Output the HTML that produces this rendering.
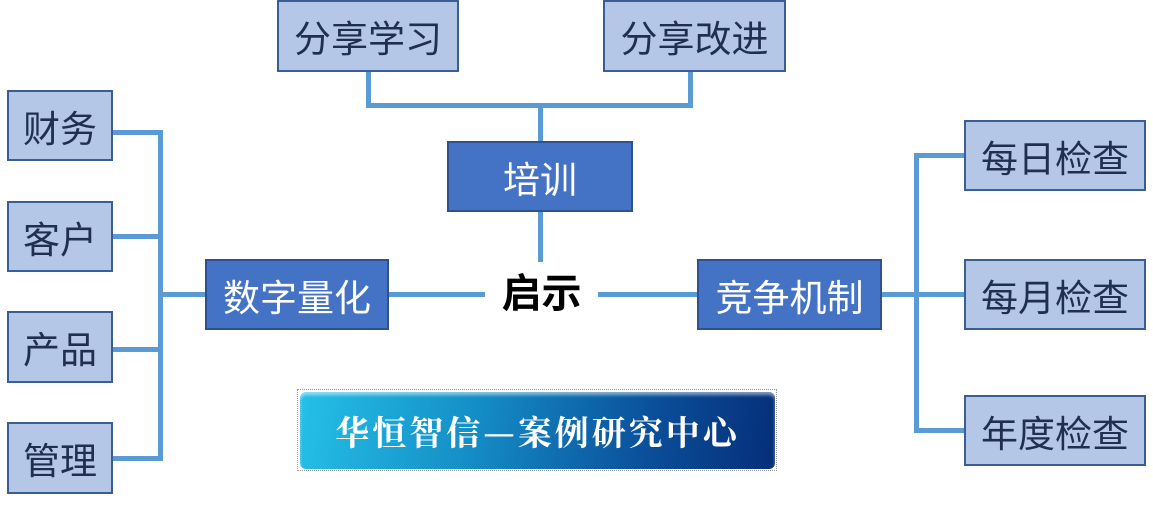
<!DOCTYPE html>
<html><head><meta charset="utf-8"><style>
body{margin:0;width:1153px;height:505px;background:#fff;position:relative;overflow:hidden;font-family:"Liberation Sans","Noto Sans CJK SC",sans-serif}
.b{position:absolute;box-sizing:border-box;border:2px solid #3A5D96;display:flex;align-items:center;justify-content:center;font-size:37px}
.l{background:#B4C7E7;color:#1F2F4F}
.d{background:#4472C4;color:#fff;border-color:#2F528F}
.ln{position:absolute;background:#5B9BD5}
</style></head><body>
<div class="ln" style="left:366px;top:70px;width:5px;height:38px"></div>
<div class="ln" style="left:688px;top:70px;width:5px;height:38px"></div>
<div class="ln" style="left:366px;top:103px;width:327px;height:5px"></div>
<div class="ln" style="left:538px;top:103px;width:5px;height:40px"></div>
<div class="ln" style="left:538px;top:210px;width:5px;height:52px"></div>
<div class="ln" style="left:387px;top:292px;width:98px;height:5px"></div>
<div class="ln" style="left:598px;top:292px;width:100px;height:5px"></div>
<div class="ln" style="left:111px;top:130px;width:52px;height:5px"></div>
<div class="ln" style="left:111px;top:234px;width:52px;height:5px"></div>
<div class="ln" style="left:111px;top:347px;width:52px;height:5px"></div>
<div class="ln" style="left:111px;top:456px;width:52px;height:5px"></div>
<div class="ln" style="left:158px;top:130px;width:5px;height:331px"></div>
<div class="ln" style="left:158px;top:292px;width:48px;height:5px"></div>
<div class="ln" style="left:880px;top:292px;width:85px;height:5px"></div>
<div class="ln" style="left:914px;top:153px;width:5px;height:280px"></div>
<div class="ln" style="left:914px;top:153px;width:51px;height:5px"></div>
<div class="ln" style="left:914px;top:428px;width:51px;height:5px"></div>
<div class="b l" style="left:277px;top:0;width:182px;height:72px">分享学习</div>
<div class="b l" style="left:603px;top:0;width:183px;height:72px">分享改进</div>
<div class="b d" style="left:447px;top:141px;width:186px;height:71px">培训</div>
<div class="b d" style="left:205px;top:259px;width:184px;height:71px">数字量化</div>
<div class="b d" style="left:697px;top:259px;width:185px;height:71px">竞争机制</div>
<div class="b l" style="left:7px;top:90px;width:106px;height:71px">财务</div>
<div class="b l" style="left:7px;top:201px;width:106px;height:71px">客户</div>
<div class="b l" style="left:7px;top:311px;width:106px;height:72px">产品</div>
<div class="b l" style="left:7px;top:422px;width:106px;height:72px">管理</div>
<div class="b l" style="left:964px;top:120px;width:182px;height:71px">每日检查</div>
<div class="b l" style="left:964px;top:259px;width:182px;height:71px">每月检查</div>
<div class="b l" style="left:964px;top:395px;width:182px;height:71px">年度检查</div>
<div style="position:absolute;left:480px;top:267px;width:123px;text-align:center;font-size:40px;font-weight:bold;color:#000;line-height:54px">启示</div>
<div style="position:absolute;left:297px;top:389px;width:480px;height:82px;box-sizing:border-box;border:1px dotted #999"></div>
<div style="position:absolute;left:300px;top:392px;width:475px;height:77px;border-radius:6px;background:linear-gradient(100deg,#25C0E8 0%,#1590C8 35%,#0A4C98 75%,#062E78 100%);box-shadow:inset 0 3px 3px rgba(255,255,255,.5);display:flex;align-items:center;justify-content:center;color:#fff;font-family:'Noto Serif CJK SC',serif;font-weight:bold;font-size:34px;letter-spacing:3px">华恒智信—案例研究中心</div>
</body></html>
